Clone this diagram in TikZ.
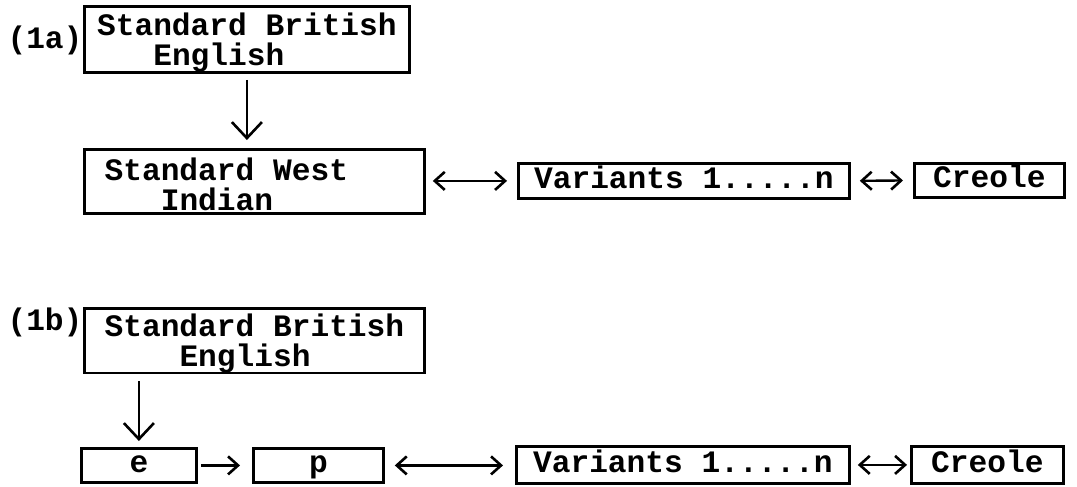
\documentclass[tikz,border=0pt]{standalone}
\usepackage{fontspec}
\setmonofont{Liberation Mono}[WordSpace={1,0,0}]
\usetikzlibrary{arrows.meta}
\tikzset{
  x=0.5pt, y=-0.5pt,
  tw/.style={font=\fontsize{15.6}{15}\selectfont\ttfamily\bfseries},
  box/.style={tw, draw, line width=1.4pt, anchor=north west, inner sep=0pt},
  onel/.style={text height=11pt, text depth=3.5pt},
  vbar/.style={-{Straight Barb[length=8pt,width=15pt,line width=1.3pt]}, line width=1.2pt},
  hbar/.style={-{Straight Barb[length=5pt,width=9pt,line width=1.3pt]}, line width=1.2pt},
  hbarb/.style={{Straight Barb[length=5pt,width=9pt,line width=1.3pt]}-{Straight Barb[length=5pt,width=9pt,line width=1.3pt]}, line width=1.2pt},
}
\newcommand{\tallstrut}{\rule{0pt}{14pt}}
\begin{document}
\begin{tikzpicture}
\useasboundingbox (0,0) rectangle (1077,487);
% labels
\node[tw] (l1a) at (45,40) {(1a)};
\node[tw] (l1b) at (45,322) {(1b)};
% (1a)
\node[box, minimum width=162.5pt, minimum height=33pt, align=left] (sbe1) at (83,5)
  {\tallstrut Standard British\\\phantom{Sta}English};
\node[box, minimum width=170pt, minimum height=32pt, align=left] (swi) at (83,148)
  {\tallstrut Standard West\phantom{xxx}\\\phantom{Sta}Indian};
\node[box, onel, minimum width=165.5pt, minimum height=17.5pt] (var1) at (517,162) {Variants 1.....n};
\node[box, onel, minimum width=75pt, minimum height=17pt] (cre1) at (913,162) {Creole};
% (1b)
\node[box, minimum width=170pt, minimum height=32pt, align=left] (sbe2) at (83,307)
  {\tallstrut Standard British\\\phantom{Stan}English};
\node[box, onel, minimum width=57.5pt, minimum height=17pt] (e) at (80,447) {e};
\node[box, onel, minimum width=65pt, minimum height=17pt] (p) at (252,447) {p};
\node[box, onel, minimum width=166.5pt, minimum height=18.5pt] (var2) at (515,445) {Variants 1.....n};
\node[box, onel, minimum width=76pt, minimum height=18.5pt] (cre2) at (910,445) {Creole};
% connectors (1a)
\draw[vbar, shorten <=3pt, shorten >=4pt] (sbe1.south) -- (sbe1.south |- swi.north);
\draw[hbarb, shorten <=3.5pt, shorten >=5pt] (swi.east |- var1.west) -- (var1.west);
\draw[hbarb, shorten <=4.5pt, shorten >=5pt] (var1.east) -- (cre1.west);
% connectors (1b)
\draw[vbar, shorten <=3.5pt, shorten >=3pt] (e.north |- sbe2.south) -- (e.north);
\draw[hbar, shorten <=1.5pt, shorten >=6pt] (e.east) -- (p.west);
\draw[hbarb, shorten <=5pt, shorten >=6pt] (p.east) -- (p.east -| var2.west);
\draw[hbarb, shorten <=3.5pt, shorten >=1.5pt] (var2.east) -- (cre2.west);
\end{tikzpicture}
\end{document}
